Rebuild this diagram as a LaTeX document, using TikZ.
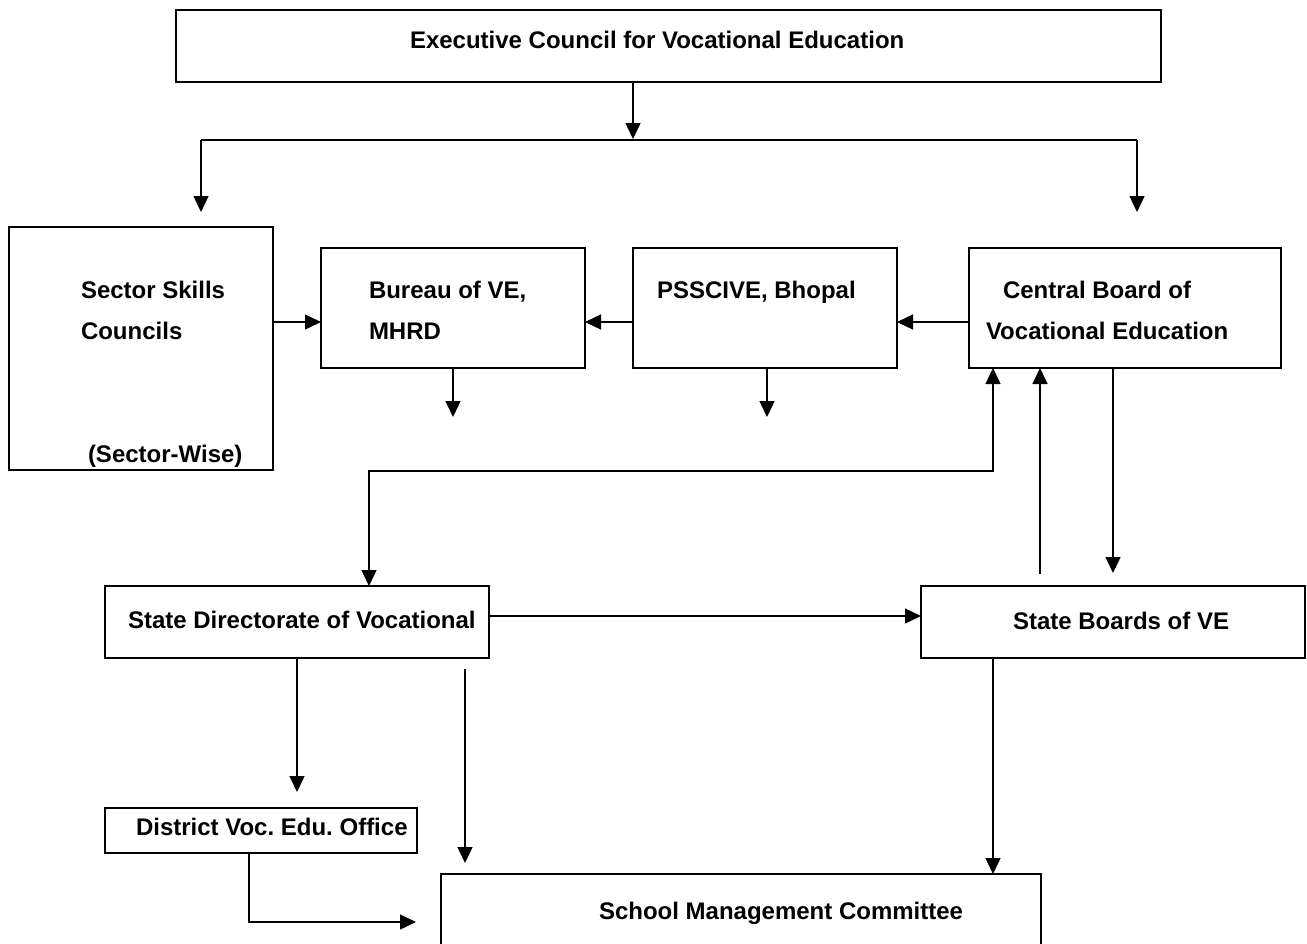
\documentclass[tikz,border=0pt]{standalone}
\usepackage{fontspec}
\setmainfont{Liberation Sans}
\frenchspacing
\usetikzlibrary{arrows.meta}
\tikzset{
  box/.style={draw, line width=2pt, rectangle, inner sep=0pt, outer sep=0pt},
  lbl/.style={anchor=base west, inner sep=0pt, outer sep=0pt, font=\fontsize{24}{28}\selectfont\bfseries\frenchspacing},
  conn/.style={line width=1.4pt},
  arr/.style={conn, -{Triangle[length=16pt,width=15pt]}},
  arrtwo/.style={conn, {Triangle[length=16pt,width=15pt]}-{Triangle[length=16pt,width=15pt]}}
}
\begin{document}
\begin{tikzpicture}[x=1pt,y=-1pt]
\useasboundingbox (0,0) rectangle (1307,943);
\clip (0,0) rectangle (1307,943);
% boxes
\node[box, minimum width=985pt, minimum height=72pt] (exec) at (668.5,46) {};
\node[box, minimum width=264pt, minimum height=243pt] (ssc) at (141,348.5) {};
\node[box, minimum width=264pt, minimum height=120pt] (bur) at (453,308) {};
\node[box, minimum width=264pt, minimum height=120pt] (pss) at (765,308) {};
\node[box, minimum width=312pt, minimum height=120pt] (cbv) at (1125,308) {};
\node[box, minimum width=384pt, minimum height=72pt] (sdv) at (297,622) {};
\node[box, minimum width=384pt, minimum height=72pt] (sbv) at (1113,622) {};
\node[box, minimum width=312pt, minimum height=45pt] (dveo) at (261,830.5) {};
\node[box, minimum width=600pt, minimum height=126pt] (smc) at (741,937) {};
% texts
\node[lbl] (texec) at (410,48) {Executive Council for Vocational Education};
\node[lbl] (tssc1) at (81,298) {Sector Skills};
\node[lbl] (tssc2) at (81,339) {Councils};
\node[lbl] (tssc3) at (88,462) {(Sector-Wise)};
\node[lbl] (tbur1) at (369,298) {Bureau of VE,};
\node[lbl] (tbur2) at (369,339) {MHRD};
\node[lbl] (tpss) at (657,298) {PSSCIVE, Bhopal};
\node[lbl] (tcbv1) at (1003,298) {Central Board of};
\node[lbl] (tcbv2) at (986,339) {Vocational Education};
\node[lbl] (tsdv) at (128,628) {State Directorate of Vocational};
\node[lbl] (tsbv) at (1013,629) {State Boards of VE};
\node[lbl] (tdveo) at (136,835) {District Voc. Edu. Office};
\node[lbl] (tsmc) at (599,919) {School Management Committee};
% free-end coordinates
\coordinate (j) at (633,139);
\coordinate (bl) at (201,140);
\coordinate (br) at (1137,140);
\coordinate (blend) at (201,212);
\coordinate (brend) at (1137,212);
\coordinate (burend) at (453,417);
\coordinate (pssend) at (767,417);
\coordinate (c1) at (993,471);
\coordinate (c2) at (369,471);
\coordinate (upstart) at (1040,574);
\coordinate (downend) at (1113,573);
\coordinate (sdvend) at (297,792);
\coordinate (midstart) at (465,669);
\coordinate (midend) at (465,863);
\coordinate (d1) at (249,922);
\coordinate (d2) at (416,922);
% connectors
\draw[arr] (exec.south -| j) -- (j);
\draw[conn] (bl) -- (br);
\draw[arr] (bl) -- (blend);
\draw[arr] (br) -- (brend);
\draw[arr] (ssc.east |- 0,322) -- (bur.west |- 0,322);
\draw[arr] (pss.west |- 0,322) -- (bur.east |- 0,322);
\draw[arr] (cbv.west |- 0,322) -- (pss.east |- 0,322);
\draw[arr] (bur.south) -- (burend);
\draw[arr] (pss.south -| pssend) -- (pssend);
\draw[arrtwo] (cbv.south -| c1) -- (c1) -- (c2) -- (sdv.north -| c2);
\draw[arr] (upstart) -- (cbv.south -| upstart);
\draw[arr] (cbv.south -| downend) -- (downend);
\draw[arr] (sdv.east |- 0,616) -- (sbv.west |- 0,616);
\draw[arr] (sdv.south -| sdvend) -- (sdvend);
\draw[arr] (midstart) -- (midend);
\draw[arr] (dveo.south -| d1) -- (d1) -- (d2);
\draw[arr] (sbv.south -| 993,0) -- (smc.north -| 993,0);
\end{tikzpicture}
\end{document}
